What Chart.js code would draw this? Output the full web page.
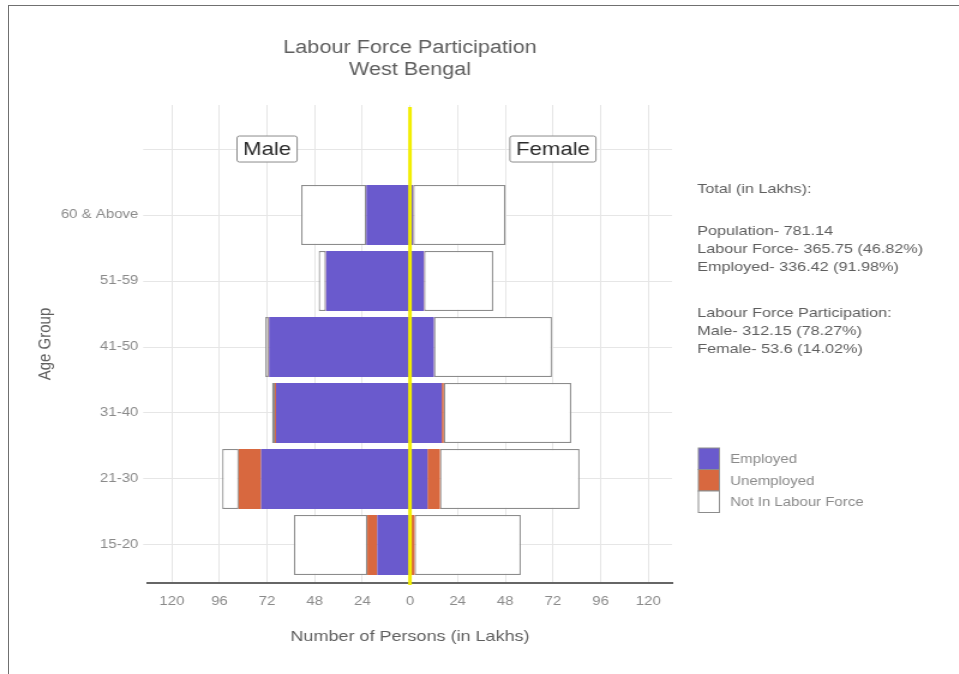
<!DOCTYPE html>
<html>
<head>
<meta charset="utf-8">
<script src="https://cdn.jsdelivr.net/npm/chart.js@4.4.1/dist/chart.umd.min.js"></script>
<style>
  html, body { margin: 0; padding: 0; background: #fff; }
  body { width: 959px; height: 674px; overflow: hidden; position: relative; }
  /* the reference picture is stretched sideways, so the whole chart is drawn narrower and widened */
  #wrap { position: absolute; left: 0; top: 0; width: 799px; height: 674px; transform: scaleX(1.2); transform-origin: 0 0; }
  #frame { position: absolute; left: 8px; top: 5px; width: 960px; height: 700px; border: 1.5px solid #707070; box-sizing: border-box; pointer-events: none; }
</style>
</head>
<body>
<div id="wrap"><canvas id="chart" width="799" height="674"></canvas></div>
<div id="frame"></div>
<script>
// bottom to top
const ageGroups = ['15-20', '21-30', '31-40', '41-50', '51-59', '60 & Above'];
const rowPos    = [0, 1, 2, 3, 4, 5];

// lakhs of persons
const maleEmployed     = [16.5, 75, 67.5, 71, 42.3, 22];
const maleUnemployed   = [5, 11.3, 0.6, 0.2, 0.1, 0.1];
const maleNotInLF      = [37, 8.3, 1.4, 1.7, 3.6, 32.7];
const femaleEmployed   = [0.8, 8.8, 16, 12, 7, 1.5];
const femaleUnemployed = [1.5, 6.3, 1, 0.1, 0.1, 0.1];
const femaleNotInLF    = [53.5, 70.3, 64.2, 59.4, 34.8, 46.5];

const xTicks = [-120, -96, -72, -48, -24, 0, 24, 48, 72, 96, 120];
const legendLabels = ['Employed', 'Unemployed', 'Not In Labour Force'];
const titleLines = ['Labour Force Participation', 'West Bengal'];
const totalsHead = ['Total (in Lakhs):'];
const totalsBody = ['Population- 781.14', 'Labour Force- 365.75 (46.82%)', 'Employed- 336.42 (91.98%)'];
const lfpBody    = ['Labour Force Participation:', 'Male- 312.15 (78.27%)', 'Female- 53.6 (14.02%)'];

const FONT    = '"Liberation Sans", Arial, sans-serif';
const PURPLE  = '#6a5acd';
const ORANGE  = '#d8683f';
const WHITE   = '#ffffff';
const OUTLINE = '#8c8c8c';
const GRID    = '#e6e6e6';
const TEXT    = '#5e5e5e';
const TICK    = '#8a8a8a';
const ZERO    = '#f2ee00';

Chart.defaults.font.family = FONT;

function seg(label, values, color, outlined) {
  return {
    label, data: values, backgroundColor: color,
    borderColor: outlined ? OUTLINE : color, borderWidth: outlined ? 1.2 : 0, borderSkipped: false,
    barPercentage: 0.91, categoryPercentage: 1,
  };
}

function drawBlock(ctx, lines, x, y, step) {
  lines.forEach((t, i) => ctx.fillText(t, x, y + i * step));
}

const overlay = {
  id: 'overlay',
  afterDatasetsDraw(chart) {
    const { ctx, chartArea: a, scales: { x, y } } = chart;
    ctx.save();
    // yellow zero line
    const x0 = x.getPixelForValue(0);
    ctx.strokeStyle = ZERO; ctx.lineWidth = 3;
    ctx.beginPath(); ctx.moveTo(x0, a.top + 2); ctx.lineTo(x0, a.bottom + 2); ctx.stroke();

    // Male / Female tags on the empty top row
    ctx.font = '18.5px ' + FONT;
    ctx.textAlign = 'center'; ctx.textBaseline = 'middle';
    [['Male', -72], ['Female', 72]].forEach(([t, v]) => {
      const cx = x.getPixelForValue(v), cy = y.getPixelForValue(6);
      const w = ctx.measureText(t).width + 10, h = 26;
      ctx.fillStyle = '#fff'; ctx.strokeStyle = OUTLINE; ctx.lineWidth = 1;
      ctx.beginPath(); ctx.roundRect(cx - w / 2, cy - h / 2, w, h, 2); ctx.fill(); ctx.stroke();
      ctx.fillStyle = '#2b2b2b'; ctx.fillText(t, cx, cy + 1);
    });
    ctx.restore();
  },
  afterDraw(chart) {
    const { ctx, chartArea: a } = chart;
    ctx.save();
    // title, centred over the panel
    ctx.fillStyle = TEXT; ctx.font = '18px ' + FONT;
    ctx.textAlign = 'center'; ctx.textBaseline = 'alphabetic';
    drawBlock(ctx, titleLines, (a.left + a.right) / 2, 52.7, 21.8);

    // totals text
    ctx.textAlign = 'left'; ctx.font = '13.5px ' + FONT;
    const tx = a.right + 21;
    drawBlock(ctx, totalsHead, tx, 193, 18.3);
    drawBlock(ctx, totalsBody, tx, 234.5, 18.3);
    drawBlock(ctx, lfpBody, tx, 316.5, 18.3);

    // legend
    ctx.font = '12.5px ' + FONT; ctx.textBaseline = 'middle';
    legendLabels.forEach((t, i) => {
      const top = 448 + i * 21.5;
      ctx.fillStyle = chart.data.datasets[i].backgroundColor;
      ctx.fillRect(tx + 1, top, 17.5, 21.5);
      ctx.strokeStyle = OUTLINE; ctx.lineWidth = 1;
      ctx.strokeRect(tx + 1, top, 17.5, 21.5);
      ctx.fillStyle = '#8a8a8a';
      ctx.fillText(t, tx + 27.5, top + 12);
    });
    ctx.restore();
  },
};

new Chart(document.getElementById('chart'), {
  type: 'bar',
  data: {
    labels: rowPos,
    datasets: [
      seg('Male Employed',       maleEmployed.map(v => -v),   PURPLE, false),
      seg('Male Unemployed',     maleUnemployed.map(v => -v), ORANGE, false),
      seg('Male Not In LF',      maleNotInLF.map(v => -v),    WHITE,  true),
      seg('Female Employed',     femaleEmployed,   PURPLE, false),
      seg('Female Unemployed',   femaleUnemployed, ORANGE, false),
      seg('Female Not In LF',    femaleNotInLF,    WHITE,  true),
    ],
  },
  options: {
    indexAxis: 'y',
    responsive: false, animation: false,
    layout: { padding: { left: 0, right: 239, top: 105, bottom: 0 } },
    plugins: { legend: { display: false }, tooltip: { enabled: false } },
    scales: {
      x: {
        type: 'linear', stacked: true, min: -132, max: 132,
        afterBuildTicks: s => { s.ticks = xTicks.map(v => ({ value: v })); },
        afterFit: s => { s.height = 91; },
        ticks: { callback: v => Math.abs(v), color: TICK, font: { size: 12.5 }, padding: 11, maxRotation: 0, autoSkip: false },
        grid: { color: GRID, drawTicks: false },
        border: { color: '#666', width: 2 },
        title: { display: true, text: 'Number of Persons (in Lakhs)', color: TEXT, font: { size: 15 }, padding: { top: 0, bottom: 28 } },
      },
      y: {
        type: 'linear', stacked: true, min: -0.576, max: 6.667, offset: false,
        afterBuildTicks: s => { s.ticks = [0, 1, 2, 3, 4, 5, 6].map(v => ({ value: v })); },
        afterFit: s => { s.width = 123.3; },
        ticks: { callback: v => ageGroups[v] || '', color: TICK, font: { size: 12.5 }, padding: 4, autoSkip: false },
        grid: { color: GRID, tickLength: 4, offset: false },
        border: { display: false },
        title: { display: true, text: 'Age Group', color: TEXT, font: { size: 15 }, padding: { top: 28.5, bottom: 0 } },
      },
    },
  },
  plugins: [overlay],
});
</script>
</body>
</html>
